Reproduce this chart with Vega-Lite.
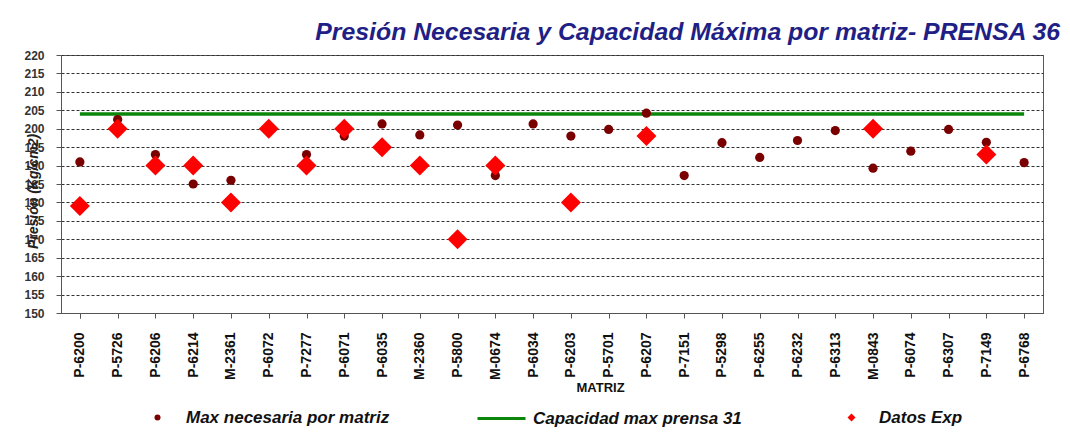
{
  "$schema": "https://vega.github.io/schema/vega-lite/v6.json",
  "width": 982,
  "height": 258,
  "autosize": {"type": "none"},
  "padding": {"left": 61, "top": 55, "right": 27, "bottom": 133},
  "background": "white",
  "title": {
    "text": "Presión Necesaria y Capacidad Máxima  por matriz- PRENSA 36",
    "anchor": "end",
    "frame": "group",
    "font": "Liberation Sans",
    "fontSize": 24.8,
    "fontStyle": "italic",
    "fontWeight": "bold",
    "color": "#1f1f85",
    "dx": 17,
    "dy": 28,
    "offset": 12,
    "baseline": "alphabetic"
  },
  "config": {
    "font": "Liberation Sans",
    "view": {"stroke": "#5a5a5a", "strokeWidth": 1},
    "axisY": {
      "grid": true, "gridColor": "#333333", "gridDash": [3,2], "gridWidth": 1,
      "domainColor": "#555555", "tickColor": "#555555", "tickSize": 5, "labelOverlap": false,
      "labelFont": "Liberation Sans", "labelFontSize": 12, "labelFontWeight": "bold", "labelColor": "#333333", "labelPadding": 12,
      "titleFont": "Liberation Sans", "titleFontSize": 14, "titleFontStyle": "italic", "titleFontWeight": "bold", "titleColor": "#222222",
      "titleX": -28, "titleY": 136, "titleAngle": 270, "titleAlign": "center", "titleBaseline": "middle"
    },
    "axisX": {
      "tickBand": "extent", "labelAngle": 270,
      "labelFont": "Liberation Sans", "labelFontSize": 14, "labelFontWeight": "bold", "labelColor": "#111111", "labelPadding": 14,
      "tickSize": 5, "domainColor": "#555555", "tickColor": "#555555", "grid": false,
      "titleFont": "Liberation Sans", "titleFontSize": 13, "titleFontWeight": "bold", "titleColor": "#111111",
      "titleX": 539, "titleY": 74, "titleBaseline": "middle", "titleAlign": "center"
    },
    "legend": {
      "orient": "none", "padding": 0, "labelLimit": 500,
      "labelFont": "Liberation Sans", "labelFontSize": 17, "labelFontStyle": "italic", "labelFontWeight": "bold", "labelColor": "#111111"
    }
  },
  "data": {
    "values": [
      {"matriz": "P-6200", "max": 191, "exp": 179, "cap": 204},
      {"matriz": "P-5726", "max": 202.5, "exp": 200, "cap": 204},
      {"matriz": "P-6206", "max": 193, "exp": 190, "cap": 204},
      {"matriz": "P-6214", "max": 185, "exp": 190, "cap": 204},
      {"matriz": "M-2361", "max": 186, "exp": 180, "cap": 204},
      {"matriz": "P-6072", "max": null, "exp": 200, "cap": 204},
      {"matriz": "P-7277", "max": 193, "exp": 190, "cap": 204},
      {"matriz": "P-6071", "max": 198, "exp": 200, "cap": 204},
      {"matriz": "P-6035", "max": 201.3, "exp": 195, "cap": 204},
      {"matriz": "M-2360", "max": 198.3, "exp": 190, "cap": 204},
      {"matriz": "P-5800", "max": 201, "exp": 170, "cap": 204},
      {"matriz": "M-0674", "max": 187.3, "exp": 190, "cap": 204},
      {"matriz": "P-6034", "max": 201.3, "exp": null, "cap": 204},
      {"matriz": "P-6203", "max": 198, "exp": 180, "cap": 204},
      {"matriz": "P-5701", "max": 199.8, "exp": null, "cap": 204},
      {"matriz": "P-6207", "max": 204.2, "exp": 198, "cap": 204},
      {"matriz": "P-7151", "max": 187.3, "exp": null, "cap": 204},
      {"matriz": "P-5298", "max": 196.2, "exp": null, "cap": 204},
      {"matriz": "P-6255", "max": 192.2, "exp": null, "cap": 204},
      {"matriz": "P-6232", "max": 196.8, "exp": null, "cap": 204},
      {"matriz": "P-6313", "max": 199.5, "exp": null, "cap": 204},
      {"matriz": "M-0843", "max": 189.3, "exp": 200, "cap": 204},
      {"matriz": "P-6074", "max": 193.9, "exp": null, "cap": 204},
      {"matriz": "P-6307", "max": 199.8, "exp": null, "cap": 204},
      {"matriz": "P-7149", "max": 196.3, "exp": 193, "cap": 204},
      {"matriz": "P-6768", "max": 190.8, "exp": null, "cap": 204}
    ]
  },
  "encoding": {
    "x": {
      "field": "matriz", "type": "nominal", "sort": null, "title": "MATRIZ",
      "scale": {"paddingInner": 0, "paddingOuter": 0}
    }
  },
  "layer": [
    {
      "mark": {"type": "line", "strokeWidth": 3.5},
      "encoding": {
        "y": {"field": "cap", "type": "quantitative", "title": "Presión (Kg/cm2)", "scale": {"domain": [150, 220], "nice": false, "zero": false},
              "axis": {"values": [150,155,160,165,170,175,180,185,190,195,200,205,210,215,220]}},
        "color": {
          "datum": "Capacidad max prensa 31",
          "scale": {"range": ["#0b860b"]},
          "legend": {"title": null, "legendX": 415, "legendY": 338, "symbolType": "stroke", "symbolSize": 2304, "symbolStrokeWidth": 3, "labelOffset": 6}
        }
      }
    },
    {
      "mark": {"type": "point", "filled": true, "opacity": 1, "size": 85, "shape": "circle"},
      "encoding": {
        "y": {"field": "max", "type": "quantitative", "title": "Presión (Kg/cm2)", "scale": {"domain": [150, 220], "nice": false, "zero": false},
              "axis": {"values": [150,155,160,165,170,175,180,185,190,195,200,205,210,215,220]}},
        "color": {
          "datum": "Max necesaria  por matriz",
          "scale": {"range": ["#7a0000"]},
          "legend": {"title": null, "legendX": 88, "legendY": 354, "symbolType": "circle", "symbolSize": 36, "labelOffset": 20}
        }
      }
    },
    {
      "mark": {"type": "point", "filled": true, "opacity": 1, "size": 400, "shape": "diamond"},
      "encoding": {
        "y": {"field": "exp", "type": "quantitative", "title": "Presión (Kg/cm2)", "scale": {"domain": [150, 220], "nice": false, "zero": false},
              "axis": {"values": [150,155,160,165,170,175,180,185,190,195,200,205,210,215,220]}},
        "color": {
          "datum": "Datos Exp",
          "scale": {"range": ["#ff0000"]},
          "legend": {"title": null, "legendX": 782, "legendY": 354, "symbolType": "diamond", "symbolSize": 64, "labelOffset": 19}
        }
      }
    }
  ],
  "resolve": {"scale": {"color": "independent"}, "legend": {"color": "independent"}}
}
